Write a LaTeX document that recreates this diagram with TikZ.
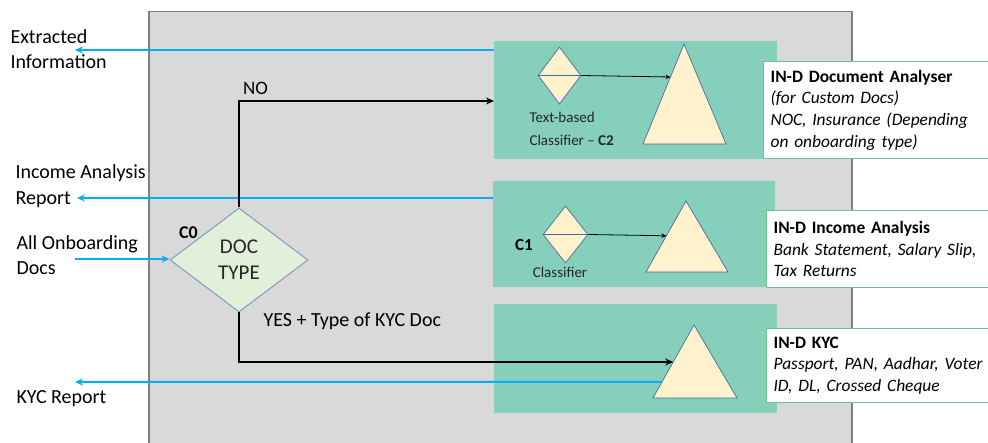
\documentclass[tikz,border=0pt]{standalone}
\usepackage{fontspec}
\setmainfont{Carlito}
\usetikzlibrary{shapes.geometric,arrows.meta,calc}
\definecolor{graybg}{HTML}{D9D9D9}
\definecolor{grayline}{HTML}{7F7F7F}
\definecolor{tealbox}{HTML}{86CFBB}
\definecolor{lgreen}{HTML}{6CC48C}
\definecolor{blueline}{HTML}{00B0F0}
\definecolor{trifill}{HTML}{FFF2CC}
\definecolor{triline}{HTML}{4A6A9C}
\definecolor{dfill}{HTML}{E2EFDA}
\definecolor{dline}{HTML}{7F9CBF}
\begin{document}
\begin{tikzpicture}[x=1pt,y=-1pt,
  tealrect/.style={fill=tealbox, draw=none, anchor=north west, inner sep=0pt},
  labelbox/.style={draw=lgreen, line width=1.2pt, fill=white, anchor=north west,
     text width=223pt, inner xsep=7pt, inner ysep=0pt, align=left,
     font=\fontsize{17.4}{21.7}\selectfont},
  tri/.style={fill=trifill, draw=triline, line width=0.7pt},
  smalldia/.style={diamond, fill=trifill, draw=triline, line width=0.7pt, inner sep=0pt},
  bigdia/.style={diamond, fill=dfill, draw=dline, line width=1pt, inner sep=0pt,
     minimum width=138pt, minimum height=104pt, align=center,
     font=\fontsize{21}{26}\selectfont},
  sidetext/.style={anchor=west, align=left, font=\fontsize{20}{25.5}\selectfont},
  bluearr/.style={draw=blueline, line width=2pt, -{Stealth[length=8pt,width=7pt]}},
  blackarr/.style={draw=black, line width=2pt, -{Stealth[length=8pt,width=7pt]}},
  thinarr/.style={draw=black, line width=0.8pt, -{Stealth[length=5pt,width=4.5pt]}},
  smalltext/.style={font=\fontsize{15}{23}\selectfont}
]
\useasboundingbox (0,0) rectangle (988,443);
\clip (0,0) rectangle (988,443);
\fill[white] (0,0) rectangle (988,443);

% frame
\node[draw=grayline, fill=graybg, line width=1.5pt, anchor=north west,
      minimum width=703pt, minimum height=460pt, inner sep=0pt] (frame) at (148,11) {};

% teal boxes
\node[tealrect, minimum width=283pt, minimum height=118pt] (b1) at (494,41) {};
\node[tealrect, minimum width=282pt, minimum height=106pt] (b2) at (493,181) {};
\node[tealrect, minimum width=283pt, minimum height=109pt] (b3) at (494,304) {};

% triangles
\coordinate (t1top) at (684,44);
\coordinate (t1bl) at (643,144);
\coordinate (t1br) at (726,144);
\coordinate (t2top) at (686,201);
\coordinate (t2bl) at (646,272);
\coordinate (t2br) at (728,272);
\coordinate (t3top) at (694,325);
\coordinate (t3bl) at (653,398);
\coordinate (t3br) at (737,398);
\draw[tri] (t1top) -- (t1bl) -- (t1br) -- cycle;
\draw[tri] (t2top) -- (t2bl) -- (t2br) -- cycle;
\draw[tri] (t3top) -- (t3bl) -- (t3br) -- cycle;
\coordinate (t1in) at ($(t1top)!0.33!(t1bl)$);
\coordinate (t2in) at ($(t2top)!0.49!(t2bl)$);
\coordinate (t3in) at ($(t3top)!0.507!(t3bl)$);
\coordinate (t3out) at ($(t3top)!0.78!(t3bl)$);

% small diamonds
\node[smalldia, minimum width=43pt, minimum height=57pt] (d1) at (559.5,75.5) {};
\node[smalldia, minimum width=45pt, minimum height=57pt] (d2) at (565.5,234.5) {};
\draw[triline, line width=0.7pt] (d1.west) -- (d1.east);
\draw[triline, line width=0.7pt] (d2.west) -- (d2.east);
\draw[thinarr] (d1.east) -- (t1in);
\draw[thinarr] (d2.east) -- (t2in);

\node[smalltext, anchor=west, align=left, text=black!85] (c2txt) at (526,128.5) {Text-based\\Classifier – \textbf{C2}};
\node[font=\fontsize{17}{20}\selectfont\bfseries] (c1txt) at (524,245) {C1};
\node[smalltext, text=black!85] (c1cls) at (560,272) {Classifier};

% label boxes
\node[labelbox, minimum height=97pt] (l1) at (763,61)
  {\textbf{IN-D Document Analyser}\\\textit{(for Custom Docs)}\\\textit{NOC, Insurance (Depending}\\\textit{on onboarding type)}};
\node[labelbox, minimum height=77pt] (l2) at (766,210)
  {\textbf{IN-D Income Analysis}\\\textit{Bank Statement, Salary Slip,}\\\textit{Tax Returns}};
\node[labelbox, minimum height=74pt] (l3) at (766,328)
  {\textbf{IN-D KYC}\\\textit{Passport, PAN, Aadhar, Voter}\\\textit{ID, DL, Crossed Cheque}};

% main decision
\node[bigdia, text=black!85] (c0) at (239,260) {DOC\\TYPE};
\node[font=\fontsize{18}{20}\selectfont\bfseries] (c0lab) at (188.5,233) {C0};

% side labels
\node[sidetext] (extxt) at (7,49) {Extracted\\Information};
\node[sidetext] (inctxt) at (12,186) {Income Analysis\\Report};
\node[sidetext] (onbtxt) at (13,255) {All Onboarding\\Docs};
\node[sidetext] (kyctxt) at (13,399) {KYC Report};

\coordinate (ex) at (75,50);
\coordinate (inc) at (77,198);
\coordinate (onb) at (75,259);
\coordinate (kyc) at (75,382);

% blue arrows
\draw[bluearr] (ex -| b1.west) -- (ex);
\draw[bluearr] (inc -| b2.west) -- (inc);
\draw[bluearr] (onb) -- (onb -| c0.west);
\draw[bluearr] (t3out) -- (kyc);

% black arrows
\coordinate (noend) at (494,101);
\draw[blackarr] (c0.north) |- (noend);
\draw[blackarr] (c0.south) |- (t3in);
\node[font=\fontsize{19}{22}\selectfont] (notxt) at (255.5,88) {NO};
\node[anchor=west, font=\fontsize{20}{24}\selectfont] (yestxt) at (260,321) {YES + Type of KYC Doc};

\end{tikzpicture}
\end{document}
